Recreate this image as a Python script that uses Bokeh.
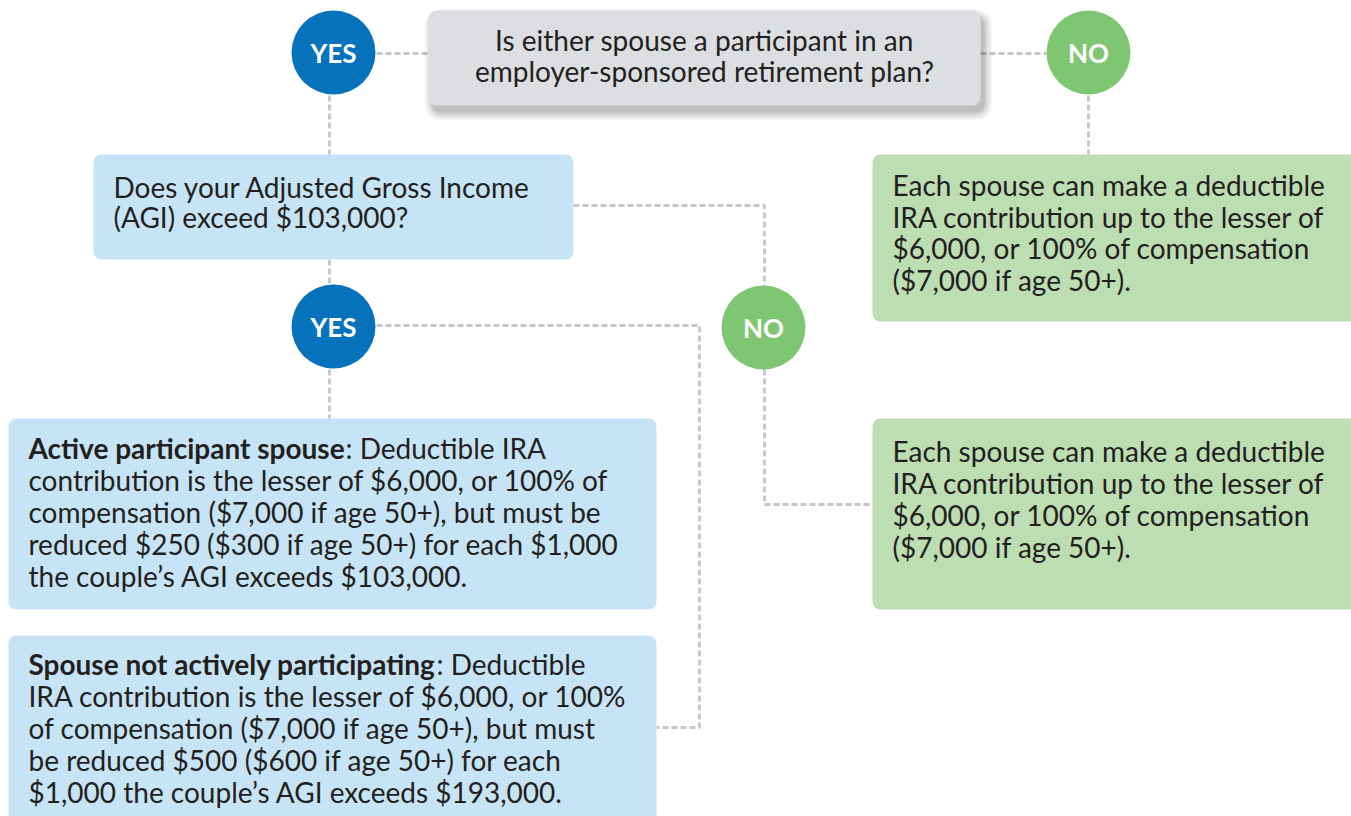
from bokeh.plotting import figure
from bokeh.models import Range1d
from bokeh.core.properties import value
from bokeh.embed import file_html
from bokeh.resources import INLINE

# ---------------- data (texts) ----------------
question_lines = ["Is either spouse a participant in an",
                  "employer-sponsored retirement plan?"]
agi_lines = ["Does your Adjusted Gross Income",
             "(AGI) exceed $103,000?"]
no_plan_lines = ["Each spouse can make a deductible",
                 "IRA contribution up to the lesser of",
                 "$6,000, or 100% of compensation",
                 "($7,000 if age 50+)."]
below_agi_lines = ["Each spouse can make a deductible",
                   "IRA contribution up to the lesser of",
                   "$6,000, or 100% of compensation",
                   "($7,000 if age 50+)."]
active_lead = "Active participant spouse"
active_lines = [": Deductible IRA",
                "contribution is the lesser of $6,000, or 100% of",
                "compensation ($7,000 if age 50+), but must be",
                "reduced $250 ($300 if age 50+) for each $1,000",
                "the couple\u2019s AGI exceeds $103,000."]
inactive_lead = "Spouse not actively participating"
inactive_lines = [": Deductible",
                  "IRA contribution is the lesser of $6,000, or 100%",
                  "of compensation ($7,000 if age 50+), but must",
                  "be reduced $500 ($600 if age 50+) for each",
                  "$1,000 the couple\u2019s AGI exceeds $193,000."]
answer_labels = ["YES", "NO", "YES", "NO"]

# ---------------- layout ----------------
FONT = value("Lato")
TXT = "#231f20"
BLUE = "#0672bc"
GREEN = "#7fc672"
LINE = "#c3c7cd"

p = figure(width=1351, height=816, output_backend="svg", toolbar_location=None,
           x_range=Range1d(0, 1351), y_range=Range1d(816, 0),
           min_border=0, outline_line_color=None)
p.axis.visible = False
p.grid.visible = False
p.background_fill_color = "white"
p.border_fill_color = "white"

# connectors
dash = dict(line_color=LINE, line_width=2.8, line_dash="6 3")
conn_x = [[376, 428], [980, 1046], [329, 329], [1088, 1088],
          [573, 764, 764], [329, 329], [376, 699, 699, 656],
          [764, 764, 872], [329, 329]]
conn_y = [[53, 53], [53, 53], [95, 154], [95, 154],
          [205, 205, 285], [259, 284], [325, 325, 727, 727],
          [369, 504, 504], [369, 418]]
p.multi_line(conn_x, conn_y, **dash)

# shadow for question box
for i, a in enumerate([0.035, 0.045, 0.055, 0.065, 0.075]):
    g = 8 - i * 2
    p.quad(left=[428 + 4 - g], right=[980 + 4 + g], top=[10 + 7 - g], bottom=[105 + 7 + g],
           fill_color="#000000", fill_alpha=a, line_color=None, border_radius=8 + g)

# boxes
boxes = [
    (428, 980, 10, 105, "#dcdee2"),
    (93, 573, 154, 259, "#c6e4f6"),
    (872, 1360, 154, 321, "#bddeb2"),
    (8, 656, 418, 609, "#c6e4f6"),
    (872, 1360, 418, 609, "#bddeb2"),
    (8, 656, 635, 830, "#c6e4f6"),
]
for l, r, t, b, c in boxes:
    p.quad(left=[l], right=[r], top=[t], bottom=[b], fill_color=c,
           line_color=None, border_radius=8)

# circles
cx = [333, 1088, 333, 763]
cy = [52, 52, 326, 327]
cc = [BLUE, GREEN, BLUE, GREEN]
p.circle(x=cx, y=cy, radius=42, fill_color=cc, line_color=None)
p.text(x=cx, y=cy, text=answer_labels, text_color="white",
       text_font=FONT, text_font_style="bold", text_font_size="26px",
       text_align="center", text_baseline="middle")

common = dict(text_color=TXT, text_font=FONT, text_font_size="28px",
              text_baseline="middle")

p.text(x=[704] * 2, y=[39, 70], text=question_lines, text_align="center", **common)
p.text(x=[113] * 2, y=[186, 216], text=agi_lines, text_align="left", **common)
p.text(x=[892] * 4, y=[184, 216, 247, 279], text=no_plan_lines, text_align="left", **common)
p.text(x=[892] * 4, y=[450, 482, 514, 546], text=below_agi_lines, text_align="left", **common)

ay = [447, 479, 511, 543, 575]
p.text(x=[28], y=[ay[0]], text=[active_lead], text_align="left", text_font_style="bold", **common)
p.text(x=[345] + [28] * 4, y=ay, text=active_lines, text_align="left", **common)

iy = [663, 695, 727, 759, 791]
p.text(x=[28], y=[iy[0]], text=[inactive_lead], text_align="left", text_font_style="bold", **common)
p.text(x=[436] + [28] * 4, y=iy, text=inactive_lines, text_align="left", **common)

open("out.html", "w").write(file_html(p, INLINE))
